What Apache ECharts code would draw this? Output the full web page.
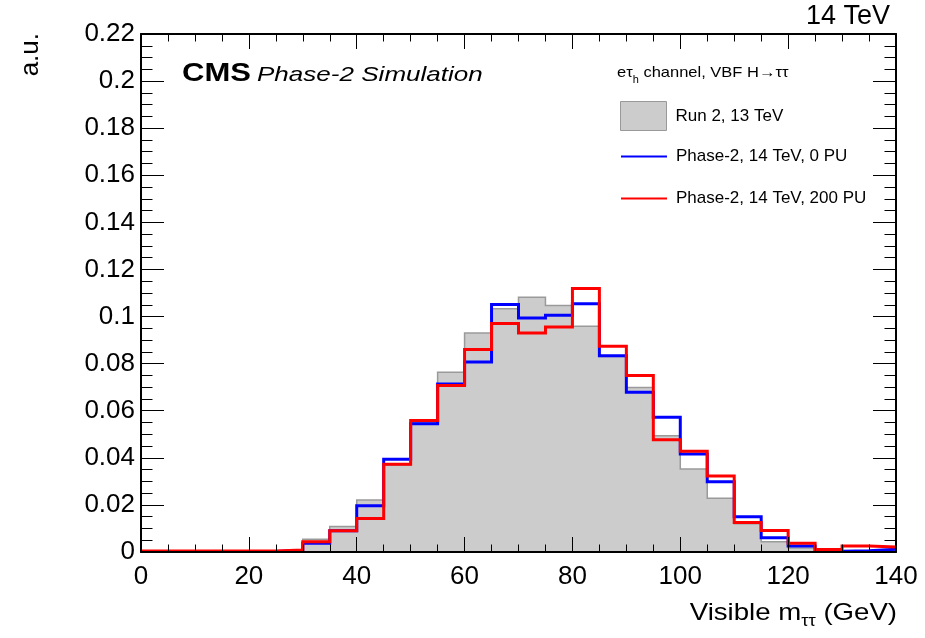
<!DOCTYPE html>
<html>
<head>
<meta charset="utf-8">
<title>Visible m_tautau</title>
<script src="https://cdn.jsdelivr.net/npm/echarts@6/dist/echarts.min.js"></script>
<style>
  html, body { margin: 0; padding: 0; background: #fff; }
  #chart { width: 925px; height: 638px; }
</style>
</head>
<body>
<div id="chart"></div>
<script>
// bin edges (GeV), 5 GeV bins from 0 to 140
let binEdges = [0, 5, 10, 15, 20, 25, 30, 35, 40, 45, 50, 55, 60, 65, 70,
  75, 80, 85, 90, 95, 100, 105, 110, 115, 120, 125, 130, 135, 140];

// one value per bin
let run2 = [0.0002, 0.0002, 0.0002, 0.0002, 0.0003, 0.0010, 0.0054, 0.0108,
  0.0221, 0.0368, 0.0550, 0.0763, 0.0930, 0.1033, 0.1082, 0.1047, 0.0959,
  0.0830, 0.0699, 0.0494, 0.0353, 0.0228, 0.0120, 0.0044, 0.0017, 0.0004,
  0.0005, 0.0008];
let phase2NoPU = [0.0002, 0.0002, 0.0002, 0.0002, 0.0002, 0.0007, 0.0037, 0.0090,
  0.0196, 0.0394, 0.0545, 0.0714, 0.0807, 0.1051, 0.0994, 0.1006, 0.1054,
  0.0834, 0.0678, 0.0572, 0.0416, 0.0298, 0.0150, 0.0061, 0.0026, 0.0003,
  0.0005, 0.0012];
let phase2PU200 = [0.0004, 0.0004, 0.0004, 0.0004, 0.0004, 0.0009, 0.0044, 0.0090,
  0.0142, 0.0373, 0.0559, 0.0707, 0.0860, 0.0970, 0.0930, 0.0956, 0.1119,
  0.0874, 0.0750, 0.0477, 0.0428, 0.0323, 0.0125, 0.0091, 0.0037, 0.0011,
  0.0026, 0.0021];

let seriesNames = ['Run 2, 13 TeV', 'Phase-2, 14 TeV, 0 PU', 'Phase-2, 14 TeV, 200 PU'];

const FONT = '"Liberation Sans", Arial, Helvetica, sans-serif';

// histogram -> step points, last edge repeats the last bin
let toSteps = function (vals) {
  return binEdges.map(function (e, i) {
    return [e, vals[Math.min(i, vals.length - 1)]];
  });
};

let tickStyle = { color: '#000', width: 1 };

let makeX = function (pos) {
  return {
    type: 'value', min: 0, max: 140, interval: 20, position: pos, z: 10,
    axisLine: { show: true, onZero: false, lineStyle: { color: '#000', width: 2 } },
    axisTick: { show: true, inside: true, length: 15, lineStyle: tickStyle },
    minorTick: { show: true, splitNumber: 4, length: 7.5, lineStyle: tickStyle },
    axisLabel: { show: pos === 'bottom', fontSize: 26, margin: 12, color: '#000', fontFamily: FONT },
    splitLine: { show: false }
  };
};
let makeY = function (pos) {
  return {
    type: 'value', min: 0, max: 0.22, interval: 0.02, position: pos, z: 10,
    axisLine: { show: true, onZero: false, lineStyle: { color: '#000', width: 2 } },
    axisTick: { show: true, inside: true, length: 23, lineStyle: tickStyle },
    minorTick: { show: true, splitNumber: 4, length: 11.5, lineStyle: tickStyle },
    axisLabel: { show: pos === 'left', fontSize: 26, margin: 6, color: '#000', fontFamily: FONT },
    splitLine: { show: false }
  };
};

// one legend box per entry so each row sits where it does in the plot
let makeLegend = function (item, top) {
  return {
    orient: 'vertical',
    left: 615,
    top: top,
    itemWidth: 46,
    itemHeight: 29,
    textStyle: { fontSize: 17, color: '#000', fontFamily: FONT, padding: [0, 0, 0, 4] },
    data: [item]
  };
};

let myChart = echarts.init(document.getElementById('chart'), null, { renderer: 'canvas' });

let option = {
  animation: false,
  backgroundColor: '#fff',
  grid: { left: 141, top: 34, width: 755, height: 518 },
  xAxis: [makeX('bottom'), makeX('top')],
  yAxis: [makeY('left'), makeY('right')],
  legend: [
    makeLegend({ name: seriesNames[0], icon: 'rect', itemStyle: { color: '#cccccc', borderColor: '#999', borderWidth: 1 } }, 96),
    makeLegend({ name: seriesNames[1], itemStyle: { opacity: 0 }, lineStyle: { width: 2 } }, 140),
    makeLegend({ name: seriesNames[2], itemStyle: { opacity: 0 }, lineStyle: { width: 2 } }, 182)
  ],
  series: [
    {
      name: seriesNames[0],
      type: 'line',
      step: 'end',
      symbol: 'none',
      color: '#cccccc',
      lineStyle: { color: '#9a9a9a', width: 1.5, join: 'miter' },
      areaStyle: { color: '#cccccc', opacity: 1 },
      data: toSteps(run2),
      z: 2
    },
    {
      name: seriesNames[1],
      type: 'line',
      step: 'end',
      symbol: 'none',
      color: '#0000ff',
      lineStyle: { color: '#0000ff', width: 3, join: 'miter' },
      data: toSteps(phase2NoPU),
      z: 3
    },
    {
      name: seriesNames[2],
      type: 'line',
      step: 'end',
      symbol: 'none',
      color: '#ff0000',
      lineStyle: { color: '#ff0000', width: 3, join: 'miter' },
      data: toSteps(phase2PU200),
      z: 4
    }
  ],
  graphic: [
    {
      type: 'text', x: 890, y: 17,
      style: { text: '14 TeV', font: '27px ' + FONT, fill: '#000', align: 'right', verticalAlign: 'middle' }
    },
    {
      type: 'text', x: 31, y: 33, rotation: Math.PI / 2,
      style: { text: 'a.u.', font: '26px ' + FONT, fill: '#000', align: 'right', verticalAlign: 'middle' }
    },
    {
      type: 'text', x: 182, y: 74, scaleX: 1.24,
      style: { text: 'CMS', font: 'bold 25px ' + FONT, fill: '#000', align: 'left', verticalAlign: 'middle' }
    },
    {
      type: 'text', x: 257, y: 75, scaleX: 1.24,
      style: { text: 'Phase-2 Simulation', font: 'italic 21px ' + FONT, fill: '#000', align: 'left', verticalAlign: 'middle' }
    },
    {
      type: 'text', x: 617, y: 61, scaleX: 1.1,
      style: {
        text: '{a|eτ}{s|h}{a| channel, VBF H→ττ}',
        fill: '#000', align: 'left', verticalAlign: 'top',
        rich: {
          a: { fontSize: 15, fontFamily: FONT, lineHeight: 24, verticalAlign: 'middle' },
          s: { fontSize: 10, fontFamily: FONT, lineHeight: 24, verticalAlign: 'bottom' }
        }
      }
    },
    {
      type: 'text', x: 897, y: 596, scaleX: 1.15,
      style: {
        text: '{a|Visible m}{s|ττ}{a| (GeV)}',
        fill: '#000', align: 'right', verticalAlign: 'top',
        rich: {
          a: { fontSize: 24, fontFamily: FONT, lineHeight: 34, verticalAlign: 'middle' },
          s: { fontSize: 16, fontFamily: FONT, lineHeight: 34, verticalAlign: 'bottom' }
        }
      }
    }
  ]
};

myChart.setOption(option);
</script>
</body>
</html>
